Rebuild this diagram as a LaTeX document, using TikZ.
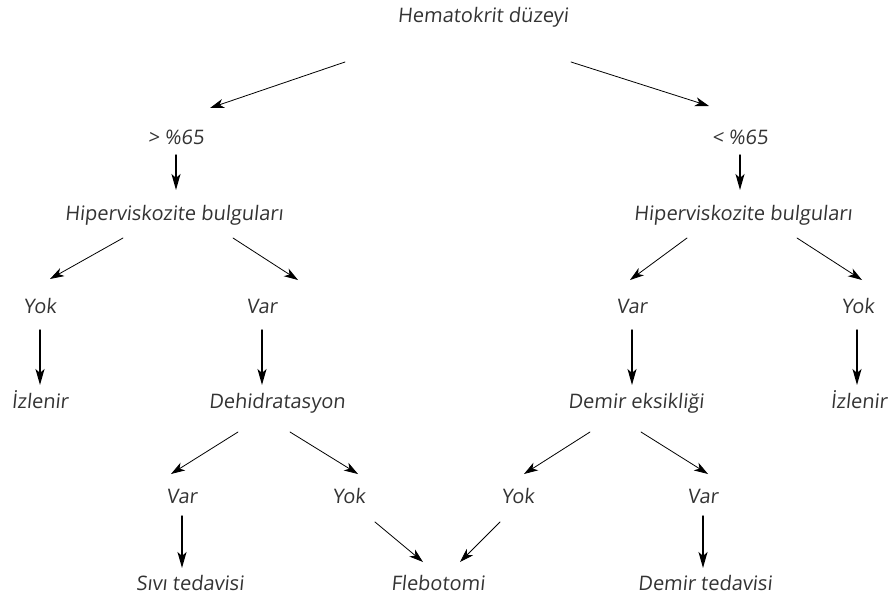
\documentclass[tikz,border=0pt]{standalone}
\usepackage{fontspec}
\setmainfont{Open Sans}[FakeSlant=0.1]
\usepackage{tikz}
\usetikzlibrary{arrows.meta, calc}

\begin{document}
\begin{tikzpicture}
		[x=1pt,y=-1pt,line cap=round,
		%Styles
		label text/.style={anchor=base,inner sep=0pt,text=black!80,font=\fontsize{20}{22}\selectfont},
		side arrow/.style={line width=.8pt,-{Stealth[length=14pt,width=9pt,inset=4pt]}},
		down arrow/.style={line width=1.4pt,-{Stealth[length=16pt,width=9pt,inset=4pt]}}
		]
		
		\useasboundingbox (0,0) rectangle (891,602);
		
		%The graphic
		
		\node[label text] (hema) at (483,23) {Hematokrit düzeyi};
		
		\node[label text] (gt) at (176,144) {> \%65};
		\node[label text] (lt) at (740,144) {< \%65};
		
		\node[label text] (hipL) at (174,220) {Hiperviskozite bulguları};
		\node[label text] (hipR) at (743,220) {Hiperviskozite bulguları};
		
		\node[label text] (yokL) at (40,313) {Yok};
		\node[label text] (varL) at (262,313) {Var};
		\node[label text] (varR) at (632,313) {Var};
		\node[label text] (yokR) at (858,313) {Yok};
		
		\node[label text] (izL) at (40,408) {İzlenir};
		\node[label text] (dehi) at (277,408) {Dehidratasyon};
		\node[label text] (demir) at (636,408) {Demir eksikliği};
		\node[label text] (izR) at (859,408) {İzlenir};
		
		\node[label text] (varA) at (182,503) {Var};
		\node[label text] (yokA) at (349,503) {Yok};
		\node[label text] (yokB) at (518,503) {Yok};
		\node[label text] (varB) at (703,503) {Var};
		
		\node[label text] (sivi) at (190,590) {Sıvı tedavisi};
		\node[label text] (fleb) at (438,590) {Flebotomi};
		\node[label text] (demT) at (705,590) {Demir tedavisi};
		
		%Arrows
		\draw[side arrow] ($(hema.base)+(-138,39)$) -- ($(gt.base)+(34,-36)$);
		\draw[side arrow] ($(hema.base)+(88,39)$) -- ($(lt.base)+(-31,-38)$);
		\draw[down arrow] ($(gt.base)+(0,11)$) -- ($(hipL.base)+(2,-30)$);
		\draw[down arrow] ($(lt.base)+(0,11)$) -- ($(hipR.base)+(-3,-30)$);
		
		\draw[side arrow] ($(hipL.base)+(-51,18)$) -- ($(yokL.base)+(10,-34)$);
		\draw[side arrow] ($(hipL.base)+(59,18)$) -- ($(varL.base)+(36,-33)$);
		\draw[side arrow] ($(hipR.base)+(-56,18)$) -- ($(varR.base)+(-2,-33)$);
		\draw[side arrow] ($(hipR.base)+(54,18)$) -- ($(yokR.base)+(4,-33)$);
		
		\draw[down arrow] ($(yokL.base)+(0,17)$) -- ($(izL.base)+(0,-23)$);
		\draw[down arrow] ($(varL.base)+(0,17)$) -- ($(dehi.base)+(-15,-23)$);
		\draw[down arrow] ($(varR.base)+(0,17)$) -- ($(demir.base)+(-4,-23)$);
		\draw[down arrow] ($(yokR.base)+(-1,17)$) -- ($(izR.base)+(-2,-23)$);
		
		\draw[side arrow] ($(dehi.base)+(-39,24)$) -- ($(varA.base)+(-11,-29)$);
		\draw[side arrow] ($(dehi.base)+(13,24)$) -- ($(yokA.base)+(9,-29)$);
		\draw[side arrow] ($(demir.base)+(-46,24)$) -- ($(yokB.base)+(6,-29)$);
		\draw[side arrow] ($(demir.base)+(5,24)$) -- ($(varB.base)+(5,-29)$);
		
		\draw[down arrow] ($(varA.base)+(0,13)$) -- ($(sivi.base)+(-8,-22)$);
		\draw[down arrow] ($(varB.base)+(0,13)$) -- ($(demT.base)+(-2,-22)$);
		\draw[side arrow] ($(yokA.base)+(26,19)$) -- ($(fleb.base)+(-15,-28)$);
		\draw[side arrow] ($(yokB.base)+(-18,19)$) -- ($(fleb.base)+(22,-28)$);
		
	\end{tikzpicture}
\end{document}
